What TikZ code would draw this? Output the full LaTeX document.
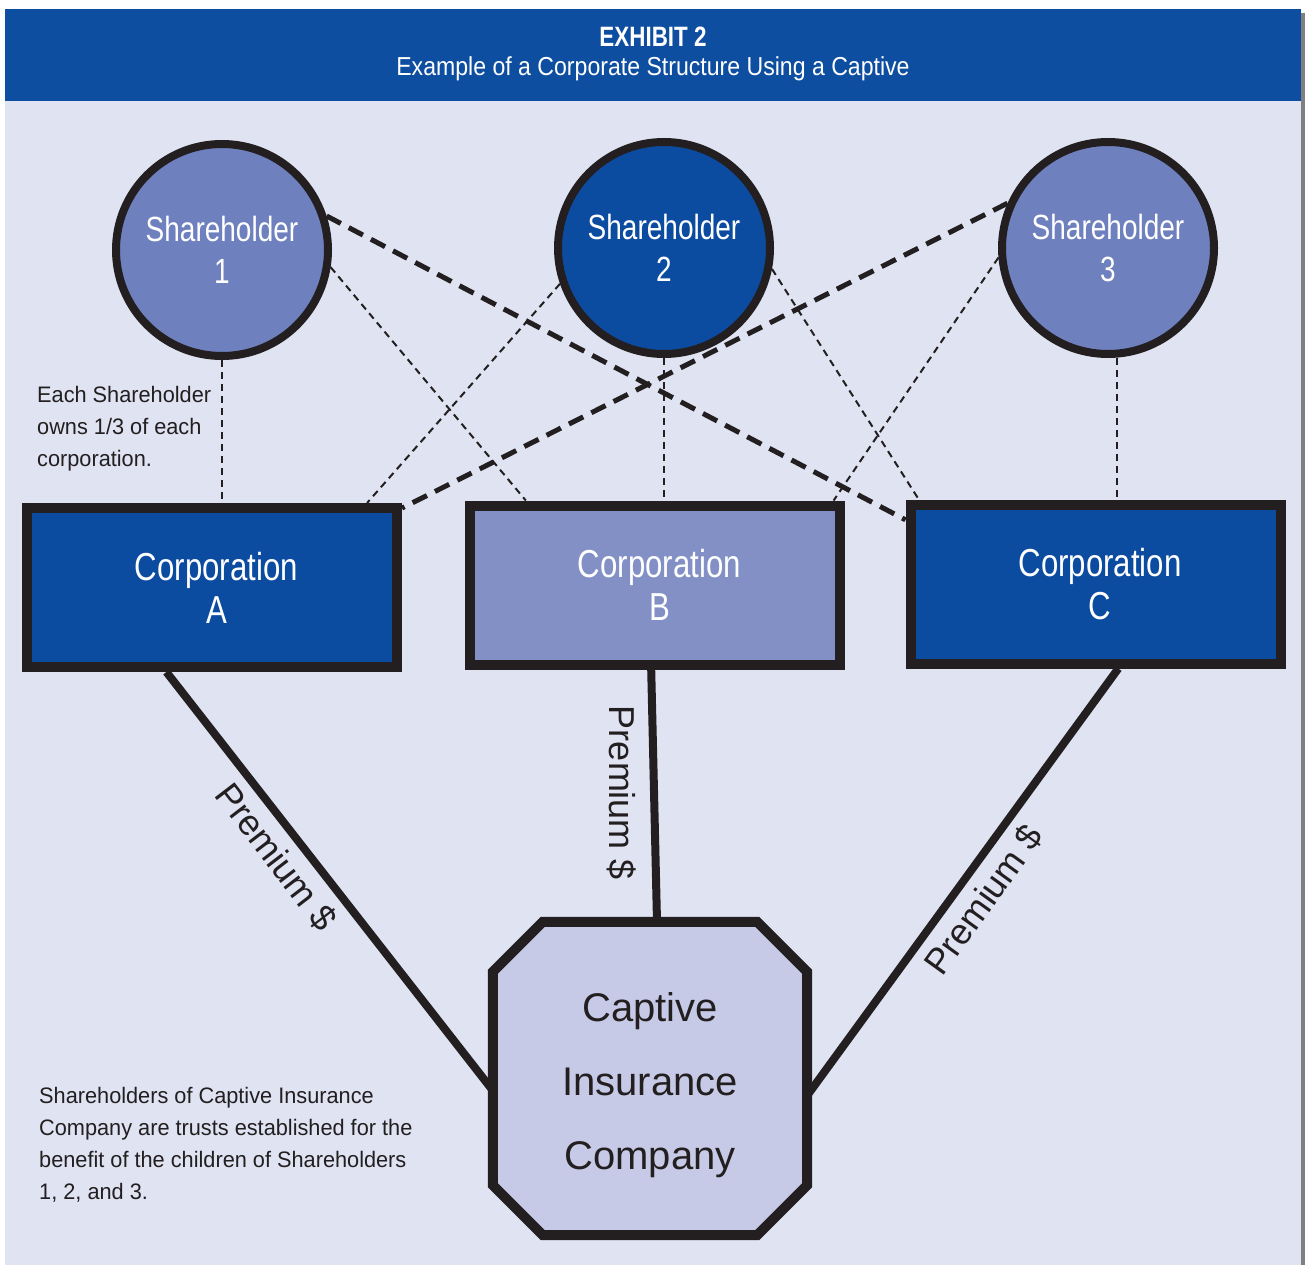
\documentclass[tikz,border=0pt]{standalone}
\usepackage{fontspec}
\setmainfont{Liberation Sans}
\newfontfamily\cnd{Liberation Sans}[FakeStretch=0.8]
\newfontfamily\hdrf{Liberation Sans}[FakeStretch=0.888]
\newfontfamily\hdrb{Liberation Sans}[FakeStretch=0.8]
\newfontfamily\nrw{Liberation Sans}[FakeStretch=0.97]
\usetikzlibrary{calc}
\pgfdeclarelayer{bottom}
\pgfdeclarelayer{background}
\pgfsetlayers{bottom,background,main}
\definecolor{hdrblue}{HTML}{0D4EA0}
\definecolor{panel}{HTML}{DFE3F2}
\definecolor{lightblue}{HTML}{6E80BE}
\definecolor{darkblue}{HTML}{0C4CA0}
\definecolor{midblue}{HTML}{8290C6}
\definecolor{octfill}{HTML}{C6CAE6}
\definecolor{ink}{HTML}{231F20}
\begin{document}
\begin{tikzpicture}[x=1pt,y=-1pt,
 shnode/.style={circle,draw=ink,line width=8pt,minimum size=212pt,inner sep=0pt,text=white,align=center,font=\cnd\fontsize{35}{42}\selectfont},
 corpnode/.style={rectangle,draw=ink,line width=10pt,minimum width=370pt,minimum height=159pt,inner sep=0pt,text=white,align=center,font=\cnd\fontsize{39}{43}\selectfont},
 thindash/.style={draw=ink,line width=2pt,dash pattern=on 7pt off 5pt},
 thickdash/.style={draw=ink,line width=5pt,dash pattern=on 16pt off 9pt},
 premline/.style={draw=ink,line width=8pt},
 premlabel/.style={text=ink,font=\fontsize{36}{40}\selectfont,inner sep=0pt},
 note/.style={text=ink,align=left,font=\nrw\fontsize{22.4}{32}\selectfont,inner sep=0pt,anchor=north west}
]
\useasboundingbox (0,0) rectangle (1305,1265);
\begin{pgfonlayer}{bottom}
\fill[white] (0,0) rectangle (1305,1265);
\fill[black!50] (1301,13) rectangle (1305,1265);
\fill[panel] (5,101) rectangle (1301,1265);
\fill[hdrblue] (5,9) rectangle (1301,101);
\end{pgfonlayer}

\node[anchor=base,text=white,inner sep=0pt,font=\hdrb\bfseries\fontsize{28}{30}\selectfont] (hdr1) at (653,47) {EXHIBIT 2};
\node[anchor=base,text=white,inner sep=0pt,font=\hdrf\fontsize{26}{30}\selectfont] (hdr2) at (653,76) {Example of a Corporate Structure Using a Captive};

\node[shnode,fill=lightblue] (sh1) at (222,250) {Shareholder\\1};
\node[shnode,fill=darkblue] (sh2) at (664,248) {Shareholder\\2};
\node[shnode,fill=lightblue] (sh3) at (1108,248) {Shareholder\\3};

\node[corpnode,fill=darkblue] (ca) at (212,587.5) {\hspace*{9pt}Corporation\\\hspace*{9pt}A};
\node[corpnode,fill=midblue] (cb) at (655,585) {\hspace*{9pt}Corporation\\\hspace*{9pt}B};
\node[corpnode,fill=darkblue] (cc) at (1095.5,584) {\hspace*{9pt}Corporation\\\hspace*{9pt}C};

\node[rectangle,minimum width=314pt,minimum height=313pt,inner sep=0pt] (cap) at (650,1078.5) {};
\begin{pgfonlayer}{background}
\draw[draw=ink,fill=octfill,line width=10pt,line join=miter]
 ([xshift=50pt]cap.north west) -- ([xshift=-50pt]cap.north east)
 -- ([yshift=-50pt]cap.north east) -- ([yshift=50pt]cap.south east)
 -- ([xshift=-50pt]cap.south east) -- ([xshift=50pt]cap.south west)
 -- ([yshift=50pt]cap.south west) -- ([yshift=-50pt]cap.north west) -- cycle;
\end{pgfonlayer}
\node[align=center,text=ink,inner sep=0pt,font=\fontsize{40}{74}\selectfont] (captxt) at ([yshift=-7pt]cap.center) {Captive\\Insurance\\Company};

% ownership links
\draw[thindash] (sh1.south) -- (sh1.south |- ca.north);
\draw[thindash] (sh2.south) -- (sh2.south |- cb.north);
\draw[thindash] ([xshift=9pt]sh3.south) -- ([xshift=9pt]sh3.south |- cc.north);
\draw[thindash] (sh1.-9) -- ($(cb.north west)!0.16!(cb.north east)$);
\draw[thindash] (sh2.-161) -- ($(ca.north west)!0.908!(ca.north east)$);
\draw[thindash] (sh2.-11) -- ($(cc.north west)!0.035!(cc.north east)$);
\draw[thindash] (sh3.-175) -- ($(cb.north west)!0.97!(cb.north east)$);
\draw[thickdash] (sh1.18) -- ($(cc.north west)!0.12!(cc.south west)$);
\draw[thickdash] (sh3.156) -- ($(ca.north east)!0.03!(ca.south east)$);

% premium links
\draw[premline] ($(ca.south west)!0.38!(ca.south east)$) -- ([yshift=-12pt]cap.west);
\draw[premline] ($(cb.south west)!0.49!(cb.south east)$) -- ([xshift=7pt]cap.north);
\draw[premline] ($(cc.south west)!0.56!(cc.south east)$) -- ([yshift=-17pt]cap.east);

\node[premlabel,rotate=-52.5] (pa) at (276,857) {Premium \$};
\node[premlabel,rotate=-90] (pb) at (622,793) {Premium \$};
\node[premlabel,rotate=54.2] (pc) at (984,900) {Premium \$};

\node[note] (n1) at (37,385.7) {Each Shareholder\\owns 1/3 of each\\corporation.};
\node[note] (n2) at (39,1086.7) {Shareholders of Captive Insurance\\Company are trusts established for the\\benefit of the children of Shareholders\\1, 2, and 3.};
\end{tikzpicture}
\end{document}
